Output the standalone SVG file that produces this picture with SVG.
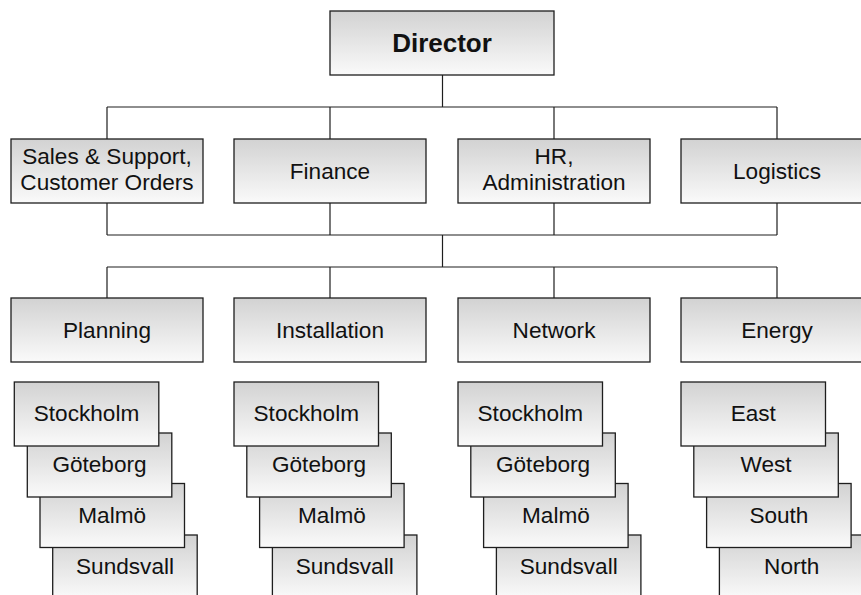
<svg xmlns="http://www.w3.org/2000/svg" width="861" height="595" viewBox="0 0 861 595">
  <defs>
    <linearGradient id="boxFill" x1="0" y1="0" x2="0" y2="1">
      <stop offset="0" stop-color="#d2d2d2"/>
      <stop offset="1" stop-color="#fafafa"/>
    </linearGradient>
  </defs>
  <style>
    .box { fill: url(#boxFill); stroke: #1e1e1e; stroke-width: 1.3; }
    .lbl { font-family: "Liberation Sans", Arial, sans-serif; font-size: 22.6px; fill: #111; text-anchor: middle; }
    .title { font-family: "Liberation Sans", Arial, sans-serif; font-size: 26px; font-weight: bold; fill: #111; text-anchor: middle; }
    .wire { fill: none; stroke: #1e1e1e; stroke-width: 1.2; }
  </style>
  <rect width="861" height="595" fill="#ffffff"/>

  <!-- connectors -->
  <g id="connectors" class="wire">
    <path d="M442.5 75 V107 M107 107 H777 M107 107 V139 M330 107 V139 M554 107 V139 M777 107 V139"/>
    <path d="M107 203 V235 M330 203 V235 M554 203 V235 M777 203 V235 M107 235 H777"/>
    <path d="M442.5 235 V267 M107 267 H777 M107 267 V298 M330 267 V298 M554 267 V298 M777 267 V298"/>
  </g>

  <!-- top -->
  <g id="director">
    <rect class="box" x="330" y="11" width="224" height="64"/>
    <text class="title" x="442" y="52">Director</text>
  </g>

  <!-- staff units -->
  <g id="sales">
    <rect class="box" x="11" y="139" width="192" height="64"/>
    <text class="lbl" x="107" y="164">Sales &amp; Support,</text>
    <text class="lbl" x="107" y="190">Customer Orders</text>
  </g>
  <g id="finance">
    <rect class="box" x="234" y="139" width="192" height="64"/>
    <text class="lbl" x="330" y="179">Finance</text>
  </g>
  <g id="hr">
    <rect class="box" x="458" y="139" width="192" height="64"/>
    <text class="lbl" x="554" y="164">HR,</text>
    <text class="lbl" x="554" y="190">Administration</text>
  </g>
  <g id="logistics">
    <rect class="box" x="681" y="139" width="192" height="64"/>
    <text class="lbl" x="777" y="179">Logistics</text>
  </g>

  <!-- line units -->
  <g id="planning">
    <rect class="box" x="11" y="298" width="192" height="64"/>
    <text class="lbl" x="107" y="338">Planning</text>
  </g>
  <g id="installation">
    <rect class="box" x="234" y="298" width="192" height="64"/>
    <text class="lbl" x="330" y="338">Installation</text>
  </g>
  <g id="network">
    <rect class="box" x="458" y="298" width="192" height="64"/>
    <text class="lbl" x="554" y="338">Network</text>
  </g>
  <g id="energy">
    <rect class="box" x="681" y="298" width="192" height="64"/>
    <text class="lbl" x="777" y="338">Energy</text>
  </g>

  <!-- planning offices (back to front) -->
  <g id="planning-sundsvall">
    <rect class="box" x="52.7" y="535" width="144.5" height="64"/>
    <text class="lbl" x="125" y="574">Sundsvall</text>
  </g>
  <g id="planning-malmo">
    <rect class="box" x="40" y="483.5" width="144.5" height="64"/>
    <text class="lbl" x="112.2" y="522.5">Malmö</text>
  </g>
  <g id="planning-goteborg">
    <rect class="box" x="27.3" y="433" width="144.5" height="64"/>
    <text class="lbl" x="99.5" y="471.5">Göteborg</text>
  </g>
  <g id="planning-stockholm">
    <rect class="box" x="14.3" y="382" width="144.5" height="64"/>
    <text class="lbl" x="86.5" y="420.5">Stockholm</text>
  </g>

  <!-- installation offices -->
  <g id="installation-sundsvall">
    <rect class="box" x="272.4" y="535" width="144.5" height="64"/>
    <text class="lbl" x="344.7" y="574">Sundsvall</text>
  </g>
  <g id="installation-malmo">
    <rect class="box" x="259.6" y="483.5" width="144.5" height="64"/>
    <text class="lbl" x="331.9" y="522.5">Malmö</text>
  </g>
  <g id="installation-goteborg">
    <rect class="box" x="246.8" y="433" width="144.5" height="64"/>
    <text class="lbl" x="319.1" y="471.5">Göteborg</text>
  </g>
  <g id="installation-stockholm">
    <rect class="box" x="234" y="382" width="144.5" height="64"/>
    <text class="lbl" x="306.3" y="420.5">Stockholm</text>
  </g>

  <!-- network offices -->
  <g id="network-sundsvall">
    <rect class="box" x="496.4" y="535" width="144.5" height="64"/>
    <text class="lbl" x="568.7" y="574">Sundsvall</text>
  </g>
  <g id="network-malmo">
    <rect class="box" x="483.6" y="483.5" width="144.5" height="64"/>
    <text class="lbl" x="555.9" y="522.5">Malmö</text>
  </g>
  <g id="network-goteborg">
    <rect class="box" x="470.8" y="433" width="144.5" height="64"/>
    <text class="lbl" x="543.1" y="471.5">Göteborg</text>
  </g>
  <g id="network-stockholm">
    <rect class="box" x="458" y="382" width="144.5" height="64"/>
    <text class="lbl" x="530.3" y="420.5">Stockholm</text>
  </g>

  <!-- energy regions -->
  <g id="energy-north">
    <rect class="box" x="719.4" y="535" width="144.5" height="64"/>
    <text class="lbl" x="791.7" y="574">North</text>
  </g>
  <g id="energy-south">
    <rect class="box" x="706.6" y="483.5" width="144.5" height="64"/>
    <text class="lbl" x="778.9" y="522.5">South</text>
  </g>
  <g id="energy-west">
    <rect class="box" x="693.8" y="433" width="144.5" height="64"/>
    <text class="lbl" x="766.1" y="471.5">West</text>
  </g>
  <g id="energy-east">
    <rect class="box" x="681" y="382" width="144.5" height="64"/>
    <text class="lbl" x="753.3" y="420.5">East</text>
  </g>
</svg>
